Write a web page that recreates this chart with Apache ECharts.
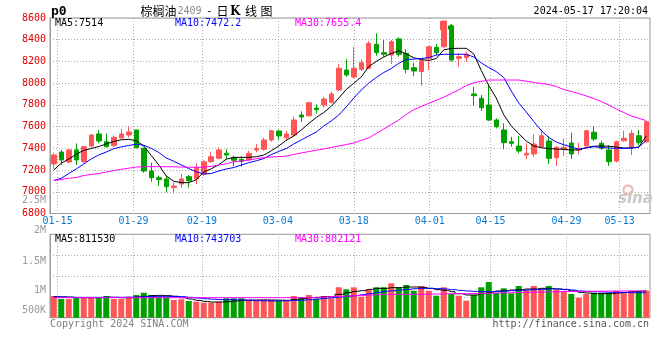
<!DOCTYPE html>
<html><head><meta charset="utf-8">
<script src="https://cdn.jsdelivr.net/npm/echarts@6/dist/echarts.min.js"></script>
<style>html,body{margin:0;padding:0;background:#fff}#c{width:660px;height:360px}</style>
</head><body><div id="c"></div>
<script>
const dates = ['01-12','01-15','01-16','01-17','01-18','01-19','01-22','01-23','01-24','01-25','01-26','01-29','01-30','01-31','02-01','02-02','02-05','02-06','02-07','02-08','02-19','02-20','02-21','02-22','02-23','02-26','02-27','02-28','02-29','03-01','03-04','03-05','03-06','03-07','03-08','03-11','03-12','03-13','03-14','03-15','03-18','03-19','03-20','03-21','03-22','03-25','03-26','03-27','03-28','03-29','04-01','04-02','04-03','04-08','04-09','04-10','04-11','04-12','04-15','04-16','04-17','04-18','04-19','04-22','04-23','04-24','04-25','04-26','04-29','04-30','05-06','05-07','05-08','05-09','05-10','05-13','05-14','05-15','05-16','05-17'];
const dateLabels = ['01-15','01-29','02-19','03-04','03-18','04-01','04-15','04-29','05-13'];
const opens = [7256,7366,7274,7385,7277,7422,7532,7461,7424,7495,7523,7569,7400,7191,7130,7118,7038,7072,7139,7118,7161,7277,7308,7354,7317,7299,7293,7385,7391,7477,7560,7498,7523,7707,7700,7771,7799,7824,7937,8121,8057,8127,8137,8358,8281,8259,8407,8275,8142,8106,8229,8330,8335,8526,8229,8235,7900,7861,7799,7661,7569,7461,7421,7339,7348,7415,7467,7314,7391,7449,7385,7424,7548,7446,7385,7283,7470,7409,7516,7461];
const closes = [7339,7293,7385,7293,7415,7523,7468,7415,7501,7532,7550,7406,7191,7130,7113,7047,7053,7118,7102,7225,7277,7323,7385,7339,7290,7280,7354,7400,7477,7562,7514,7532,7661,7688,7820,7756,7854,7900,8137,8075,8137,8188,8367,8281,8266,8382,8266,8127,8112,8207,8335,8281,8572,8213,8244,8266,7885,7774,7661,7599,7452,7446,7375,7354,7440,7516,7308,7409,7409,7348,7400,7562,7486,7400,7277,7461,7492,7538,7452,7645];
const lows = [7210,7247,7262,7247,7262,7406,7446,7409,7415,7490,7500,7400,7176,7093,7056,6995,6986,7038,7038,7069,7145,7268,7299,7299,7237,7231,7286,7363,7378,7461,7477,7470,7514,7645,7691,7719,7774,7814,7928,8060,8045,8112,8130,8253,8244,8176,8244,8091,8066,7977,8121,8259,8326,8198,8152,8198,7790,7744,7652,7584,7391,7415,7354,7299,7323,7409,7256,7237,7330,7302,7345,7415,7467,7385,7237,7271,7461,7339,7430,7452];
const highs = [7360,7385,7391,7446,7424,7532,7569,7538,7516,7581,7599,7572,7406,7268,7148,7148,7087,7164,7155,7262,7293,7369,7409,7391,7332,7329,7378,7440,7498,7569,7565,7562,7691,7740,7829,7805,7875,7921,8176,8222,8335,8222,8388,8459,8397,8397,8422,8312,8188,8213,8345,8361,8575,8542,8275,8290,7967,7891,7983,7676,7630,7507,7516,7446,7530,7575,7513,7421,7490,7543,7452,7569,7606,7470,7430,7470,7562,7569,7569,7650];
const ma5 = [7200,7263,7302,7345,7382,7398,7417,7440,7463,7479,7483,7470,7422,7334,7247,7145,7097,7084,7084,7111,7182,7212,7248,7301,7316,7317,7317,7323,7337,7377,7422,7474,7514,7569,7629,7684,7730,7787,7863,7942,7999,8057,8153,8200,8241,8273,8299,8269,8234,8218,8209,8227,8307,8319,8321,8321,8269,8117,7978,7863,7709,7606,7535,7467,7422,7406,7398,7394,7391,7385,7385,7408,7419,7422,7419,7412,7403,7403,7411,7514];
const ma10 = [7104,7124,7168,7210,7256,7302,7339,7366,7397,7414,7426,7438,7429,7400,7362,7311,7281,7248,7214,7184,7164,7169,7191,7210,7223,7246,7268,7285,7306,7343,7371,7398,7440,7477,7514,7550,7606,7652,7707,7781,7863,7937,8001,8052,8098,8135,8183,8218,8222,8227,8235,8259,8266,8266,8266,8266,8241,8186,8144,8107,8052,7928,7817,7735,7647,7564,7500,7458,7433,7412,7391,7403,7415,7408,7403,7400,7400,7403,7411,7472];
const ma30 = [7104,7113,7125,7131,7150,7159,7168,7182,7196,7207,7217,7228,7231,7231,7231,7231,7230,7228,7226,7225,7226,7234,7246,7258,7277,7283,7292,7304,7315,7320,7323,7328,7344,7357,7370,7382,7394,7408,7421,7435,7449,7474,7495,7537,7578,7619,7661,7711,7756,7785,7814,7842,7871,7905,7939,7978,8005,8017,8029,8029,8029,8029,8029,8018,8006,7997,7988,7969,7942,7923,7905,7882,7859,7831,7799,7762,7730,7698,7677,7655];
const volumes = [650,561,561,612,612,612,612,650,561,561,630,680,749,680,630,612,531,552,501,480,450,450,480,582,582,582,531,510,510,531,510,510,650,612,680,570,650,582,911,851,911,630,851,911,911,1031,911,980,809,950,809,659,911,710,659,510,680,911,1070,749,881,731,950,830,950,830,950,830,779,710,600,710,749,731,731,809,749,809,809,809];
const vma5 = [630,625,615,605,600,600,605,615,610,600,600,615,640,660,670,660,640,600,560,520,490,470,470,480,500,520,530,530,535,530,525,520,550,570,600,610,630,630,700,750,790,810,850,880,880,900,900,920,920,910,880,840,820,780,720,680,680,720,760,800,810,830,840,860,860,880,880,860,840,800,760,740,720,720,720,740,760,780,790,811.53];
const vma10 = [620,620,615,610,610,610,610,612,612,612,615,620,630,640,640,640,640,630,610,590,570,555,545,540,535,530,520,510,505,500,505,510,515,525,540,560,580,600,620,640,660,690,720,760,790,810,830,850,870,880,880,870,860,840,820,800,790,780,780,790,800,810,820,830,840,850,860,860,850,830,800,790,780,770,760,760,755,750,748,743.703];
const vma30 = [600,600,600,600,600,600,600,600,600,600,600,600,600,600,600,600,600,600,600,600,600,600,600,600,600,600,600,600,600,600,600,600,600,600,600,610,620,630,640,650,660,670,680,690,700,700,700,700,700,700,705,710,715,720,720,720,725,730,735,740,745,750,755,760,765,770,775,780,785,785,790,790,792,795,797,798,800,800,801,802.121];
const volLabels = ['2.5M','2M','1.5M','1M','500K'];
const legendMain = ['MA5:7514','MA10:7472.2','MA30:7655.4'];
const legendVol = ['MA5:811530','MA10:743703','MA30:802121'];

const RED = '#ff5555', GREEN = '#00a000';
const MONO = 'DejaVu Sans Mono';
const labelIdx = dateLabels.map(d => dates.indexOf(d));
const showAt = (i) => labelIdx.indexOf(i) >= 0;
const dotted = {show: true, lineStyle: {color: '#aaa', type: [1, 2], width: 1}};
const axisLine = {show: true, lineStyle: {color: '#999', width: 1}};

const chart = echarts.init(document.getElementById('c'));
const lineS = (data, color, xi, yi, step) => ({
  type: 'line', data: data, xAxisIndex: xi, yAxisIndex: yi, symbol: 'none', step: step || false,
  lineStyle: {color: color, width: 1}, itemStyle: {color: color}, silent: true, z: 3
});
const txt = (text, x, y, color, opts) => Object.assign({
  type: 'text', x: x, y: y, silent: true, z: 100,
  style: Object.assign({text: text, fill: color, font: '10px ' + MONO, textAlign: 'left', textVerticalAlign: 'middle'}, (opts || {}))
});

const graphics = [
  txt('p0', 51, 11.5, '#000', {font: 'bold 13px ' + MONO}),
  txt('棕榈油', 140.5, 11, '#000', {font: '12px "Noto Sans CJK SC"'}),
  txt('2409', 177.5, 11.5, '#888', {font: '10px ' + MONO}),
  txt('-', 206, 11.5, '#000', {font: '11px ' + MONO}),
  txt('日', 216.5, 11, '#000', {font: '12px "Noto Sans CJK SC"'}),
  txt('K', 230, 11.5, '#000', {font: 'bold 12px "DejaVu Serif"'}),
  txt('线', 245, 11, '#000', {font: '12px "Noto Sans CJK SC"'}),
  txt('图', 260.5, 11, '#000', {font: '12px "Noto Sans CJK SC"'}),
  txt('2024-05-17 17:20:04', 648, 11.5, '#000', {textAlign: 'right'}),
  txt(legendMain[0], 55, 23.7, '#000'),
  txt(legendMain[1], 175, 23.7, '#0000ff'),
  txt(legendMain[2], 295, 23.7, '#ff00ff'),
  txt(legendVol[0], 55, 239.5, '#000'),
  txt(legendVol[1], 175, 239.5, '#0000ff'),
  txt(legendVol[2], 295, 239.5, '#ff00ff'),
  txt(volLabels[0], 46, 200, '#999', {textAlign: 'right'}),
  txt(volLabels[1], 46, 230.7, '#999', {textAlign: 'right'}),
  txt(volLabels[2], 46, 261, '#999', {textAlign: 'right'}),
  txt(volLabels[3], 46, 290.7, '#999', {textAlign: 'right'}),
  txt(volLabels[4], 46, 310, '#999', {textAlign: 'right'}),
  txt('Copyright 2024 SINA.COM', 50, 324, '#808080'),
  txt('http://finance.sina.com.cn', 649, 324, '#555', {textAlign: 'right'}),
  {type: 'rect', silent: true, z: 100, shape: {x: 440, y: 21, width: 6, height: 9}, style: {fill: RED}},
  {type: 'rect', silent: true, z: 100, shape: {x: 448, y: 25.5, width: 6, height: 4}, style: {fill: GREEN}},
  {type: 'rect', silent: true, z: 100, shape: {x: 450.5, y: 24, width: 1, height: 6}, style: {fill: GREEN}},
  {type: 'circle', silent: true, z: 1, shape: {cx: 628, cy: 190, r: 4.5}, style: {fill: 'none', stroke: '#f3b0b0', lineWidth: 2}},
  txt('sina', 618, 199, '#c8c8c8', {font: 'italic bold 15px "DejaVu Sans"', z: 1})
];

const option = {
  animation: false,
  backgroundColor: '#fff',
  grid: [
    {left: 50, right: 10, top: 18, height: 195.5, show: true, borderColor: '#999', borderWidth: 1, backgroundColor: 'transparent'},
    {left: 50, right: 10, top: 234.3, height: 83.4, show: true, borderColor: '#999', borderWidth: 1, backgroundColor: 'transparent'}
  ],
  xAxis: [
    {type: 'category', gridIndex: 0, data: dates, boundaryGap: true, show: false},
    {type: 'category', gridIndex: 0, data: dates, boundaryGap: false, position: 'bottom', axisLine: axisLine, axisTick: {show: false},
      axisLabel: {interval: (i) => showAt(i), color: '#0a7ad0', fontFamily: MONO, fontSize: 10, margin: 3},
      splitLine: Object.assign({interval: (i) => showAt(i)}, dotted)},
    {type: 'category', gridIndex: 1, data: dates, boundaryGap: true, show: false},
    {type: 'category', gridIndex: 1, data: dates, boundaryGap: false, position: 'bottom', axisLine: axisLine, axisTick: {show: false},
      axisLabel: {show: false}, splitLine: Object.assign({interval: (i) => showAt(i)}, dotted)}
  ],
  yAxis: [
    {type: 'value', gridIndex: 0, min: 6800, max: 8600, interval: 200, axisLine: axisLine, axisTick: {show: false},
      axisLabel: {color: '#e00000', fontFamily: MONO, fontSize: 10, margin: 4, formatter: (v) => String(v)}, splitLine: dotted},
    {type: 'value', gridIndex: 1, min: 0, max: 2500000, interval: 625000, axisLine: axisLine, axisTick: {show: false},
      axisLabel: {show: false}, splitLine: dotted}
  ],
  series: [
    {type: 'candlestick', xAxisIndex: 0, yAxisIndex: 0, barWidth: 5, z: 2,
      data: dates.map((d, i) => [opens[i], closes[i], lows[i], highs[i]]),
      itemStyle: {color: RED, color0: GREEN, borderColor: RED, borderColor0: GREEN, borderWidth: 1}},
    lineS(ma5, '#000000', 0, 0),
    lineS(ma10, '#0000ff', 0, 0),
    lineS(ma30, '#ff00ff', 0, 0),
    {type: 'bar', xAxisIndex: 2, yAxisIndex: 1, barWidth: 6, z: 2,
      data: volumes.map((v, i) => ({value: v * 1000, itemStyle: {color: closes[i] >= opens[i] ? RED : GREEN}}))},
    lineS(vma5.map(v => v * 1000), '#000000', 2, 1, 'middle'),
    lineS(vma10.map(v => v * 1000), '#0000ff', 2, 1, 'middle'),
    lineS(vma30.map(v => v * 1000), '#ff00ff', 2, 1, 'middle')
  ],
  graphic: graphics
};
chart.setOption(option);
</script></body></html>
